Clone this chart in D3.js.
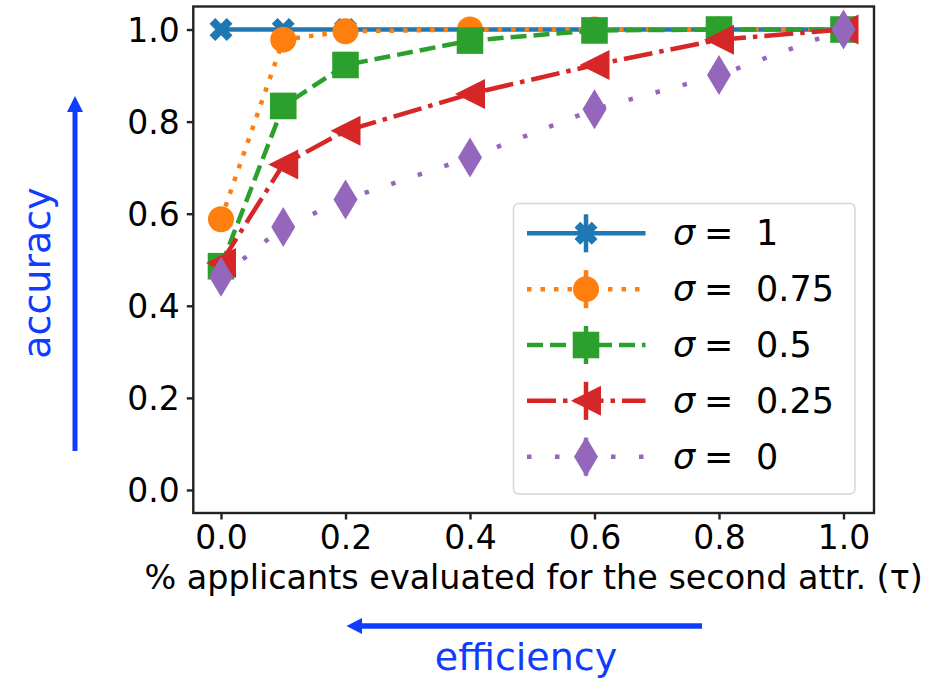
<!DOCTYPE html>
<html>
<head>
<meta charset="utf-8">
<script src="https://cdn.jsdelivr.net/npm/d3@7"></script>
<style>
  body { margin: 0; background: #fff; }
  svg { display: block; font-family: "DejaVu Sans", sans-serif; }
</style>
</head>
<body>
<svg id="chart" width="930" height="679"></svg>
<script>
const width = 930;
const height = 679;
const margin = { top: 6.5, right: 56, bottom: 166, left: 193.3 };

// fraction of applicants evaluated for the second attribute
const tau = [0, 0.1, 0.2, 0.4, 0.6, 0.8, 1.0];
const sigmaLabels = ["1", "0.75", "0.5", "0.25", "0"];
const accSigma1 = [1.0, 1.0, 1.0, 1.0, 1.0, 1.0, 1.0];
const accSigma075 = [0.588, 0.978, 0.996, 1.0, 1.0, 1.0, 1.0];
const accSigma05 = [0.486, 0.834, 0.923, 0.976, 0.998, 1.0, 1.0];
const accSigma025 = [0.493, 0.707, 0.780, 0.860, 0.923, 0.978, 1.0];
const accSigma0 = [0.463, 0.571, 0.631, 0.722, 0.827, 0.901, 1.0];
const xTicks = [0, 0.2, 0.4, 0.6, 0.8, 1.0];
const yTicks = [0, 0.2, 0.4, 0.6, 0.8, 1.0];

const series = [
    { label: sigmaLabels[0], values: accSigma1, color: "#1f77b4", dash: null, marker: "X" },
    { label: sigmaLabels[1], values: accSigma075, color: "#ff7f0e", dash: "4.5,9", marker: "o" },
    { label: sigmaLabels[2], values: accSigma05, color: "#2ca02c", dash: "16,7", marker: "s" },
    { label: sigmaLabels[3], values: accSigma025, color: "#d62728", dash: "29,7,4.5,7", marker: "<" },
    { label: sigmaLabels[4], values: accSigma0, color: "#9467bd", dash: "4.5,23.5", marker: "d" }
];

const svg = d3.select("#chart");
const w = width - margin.left - margin.right;
const h = height - margin.top - margin.bottom;

const x = d3.scaleLinear().domain([-0.0445, 1.049]).range([0, w]);
const y = d3.scaleLinear().domain([-0.05, 1.05]).range([h, 0]);

const plot = svg.append("g")
    .attr("transform", `translate(${margin.left}, ${margin.top})`);

// marker shapes
function markerPath(type) {
    if (type === "o") return d3.symbol(d3.symbolCircle, Math.PI * 13 * 13)();
    if (type === "s") return "M-13.3,-13.3H13.3V13.3H-13.3Z";
    if (type === "<") return "M-15,0L15,-15L15,15Z";
    if (type === "d") return "M0,-20L12,0L0,20L-12,0Z";
    return d3.symbol(d3.symbolCross, 330)();
}
function markerRotate(type) {
    return type === "X" ? " rotate(45)" : "";
}

// axes
const xAxis = d3.axisBottom(x).tickValues(xTicks).tickFormat(d3.format(".1f")).tickSize(6.5).tickPadding(6);
const yAxis = d3.axisLeft(y).tickValues(yTicks).tickFormat(d3.format(".1f")).tickSize(6.5).tickPadding(7);

plot.append("g")
    .attr("class", "axis x")
    .attr("transform", `translate(0, ${h})`)
    .call(xAxis);

plot.append("g")
    .attr("class", "axis y")
    .call(yAxis);

plot.selectAll(".axis .domain").remove();
plot.selectAll(".axis line").attr("stroke", "#222").attr("stroke-width", 2.4);
plot.selectAll(".axis text")
    .attr("font-family", "DejaVu Sans")
    .attr("font-size", 33)
    .attr("fill", "#000");
plot.selectAll(".axis.x text").attr("dy", "0.71em");
plot.selectAll(".axis.y text").attr("dy", "0.36em");

// lines + markers, one series after another
const line = d3.line()
    .x((d, i) => x(tau[i]))
    .y(d => y(d));

series.forEach(s => {
    const g = plot.append("g").attr("class", "series");
    g.append("path")
        .datum(s.values)
        .attr("d", line)
        .attr("fill", "none")
        .attr("stroke", s.color)
        .attr("stroke-width", 4.5)
        .attr("stroke-dasharray", s.dash)
        .attr("stroke-linecap", s.dash ? "butt" : "square")
        .attr("stroke-linejoin", "round");

    g.selectAll("path.mark")
        .data(s.values)
        .enter()
        .append("path")
        .attr("class", "mark")
        .attr("d", markerPath(s.marker))
        .attr("transform", (d, i) => `translate(${x(tau[i])}, ${y(d)})${markerRotate(s.marker)}`)
        .attr("fill", s.color);
});

// frame
plot.append("rect")
    .attr("x", 0)
    .attr("y", 0)
    .attr("width", w)
    .attr("height", h)
    .attr("fill", "none")
    .attr("stroke", "#222")
    .attr("stroke-width", 2.4);

// legend
const legend = svg.append("g").attr("class", "legend");
const lgX = 513.5, lgY = 203.5, lgW = 341.5, lgH = 290.5;
const rowY0 = 233.3, rowStep = 55.85;

legend.append("rect")
    .attr("x", lgX)
    .attr("y", lgY)
    .attr("width", lgW)
    .attr("height", lgH)
    .attr("rx", 5)
    .attr("fill", "#fff")
    .attr("fill-opacity", 0.8)
    .attr("stroke", "#d6d6d6")
    .attr("stroke-width", 1.5);

series.forEach((s, i) => {
    const cy = rowY0 + i * rowStep;
    const row = legend.append("g").attr("transform", `translate(0, ${cy})`);
    row.append("line")
        .attr("x1", 527)
        .attr("x2", 645.5)
        .attr("y1", 0)
        .attr("y2", 0)
        .attr("stroke", s.color)
        .attr("stroke-width", 4.5)
        .attr("stroke-dasharray", s.dash);
    row.append("line")
        .attr("x1", 586)
        .attr("x2", 586)
        .attr("y1", -19)
        .attr("y2", 19)
        .attr("stroke", s.color)
        .attr("stroke-width", 4.5);
    row.append("path")
        .attr("d", markerPath(s.marker))
        .attr("transform", `translate(586, 0)${markerRotate(s.marker)}`)
        .attr("fill", s.color);

    const t = row.append("text")
        .attr("y", 12)
        .attr("font-size", 35)
        .attr("fill", "#000");
    t.append("tspan").attr("x", 673).attr("font-style", "italic").text("σ");
    t.append("tspan").attr("x", 704).text("=");
    t.append("tspan").attr("x", 756).text(s.label);
});

// axis labels
svg.append("text")
    .attr("x", margin.left + w / 2)
    .attr("y", 589)
    .attr("text-anchor", "middle")
    .attr("font-size", 33.4)
    .attr("fill", "#000")
    .text("% applicants evaluated for the second attr. (τ)");

const arrowBlue = "#0f3cff";

svg.append("text")
    .attr("x", 526)
    .attr("y", 670)
    .attr("text-anchor", "middle")
    .attr("font-size", 38)
    .attr("fill", arrowBlue)
    .text("efficiency");

svg.append("text")
    .attr("transform", "translate(50, 273) rotate(-90)")
    .attr("text-anchor", "middle")
    .attr("font-size", 38)
    .attr("fill", arrowBlue)
    .text("accuracy");

// arrows
svg.append("line")
    .attr("x1", 702).attr("y1", 626)
    .attr("x2", 358).attr("y2", 626)
    .attr("stroke", arrowBlue)
    .attr("stroke-width", 5.5);
svg.append("path")
    .attr("d", "M346.5,626L362,618L362,634Z")
    .attr("fill", arrowBlue);

svg.append("line")
    .attr("x1", 75).attr("y1", 451)
    .attr("x2", 75).attr("y2", 106)
    .attr("stroke", arrowBlue)
    .attr("stroke-width", 5);
svg.append("path")
    .attr("d", "M75,96L67,112L83,112Z")
    .attr("fill", arrowBlue);
</script>
</body>
</html>
